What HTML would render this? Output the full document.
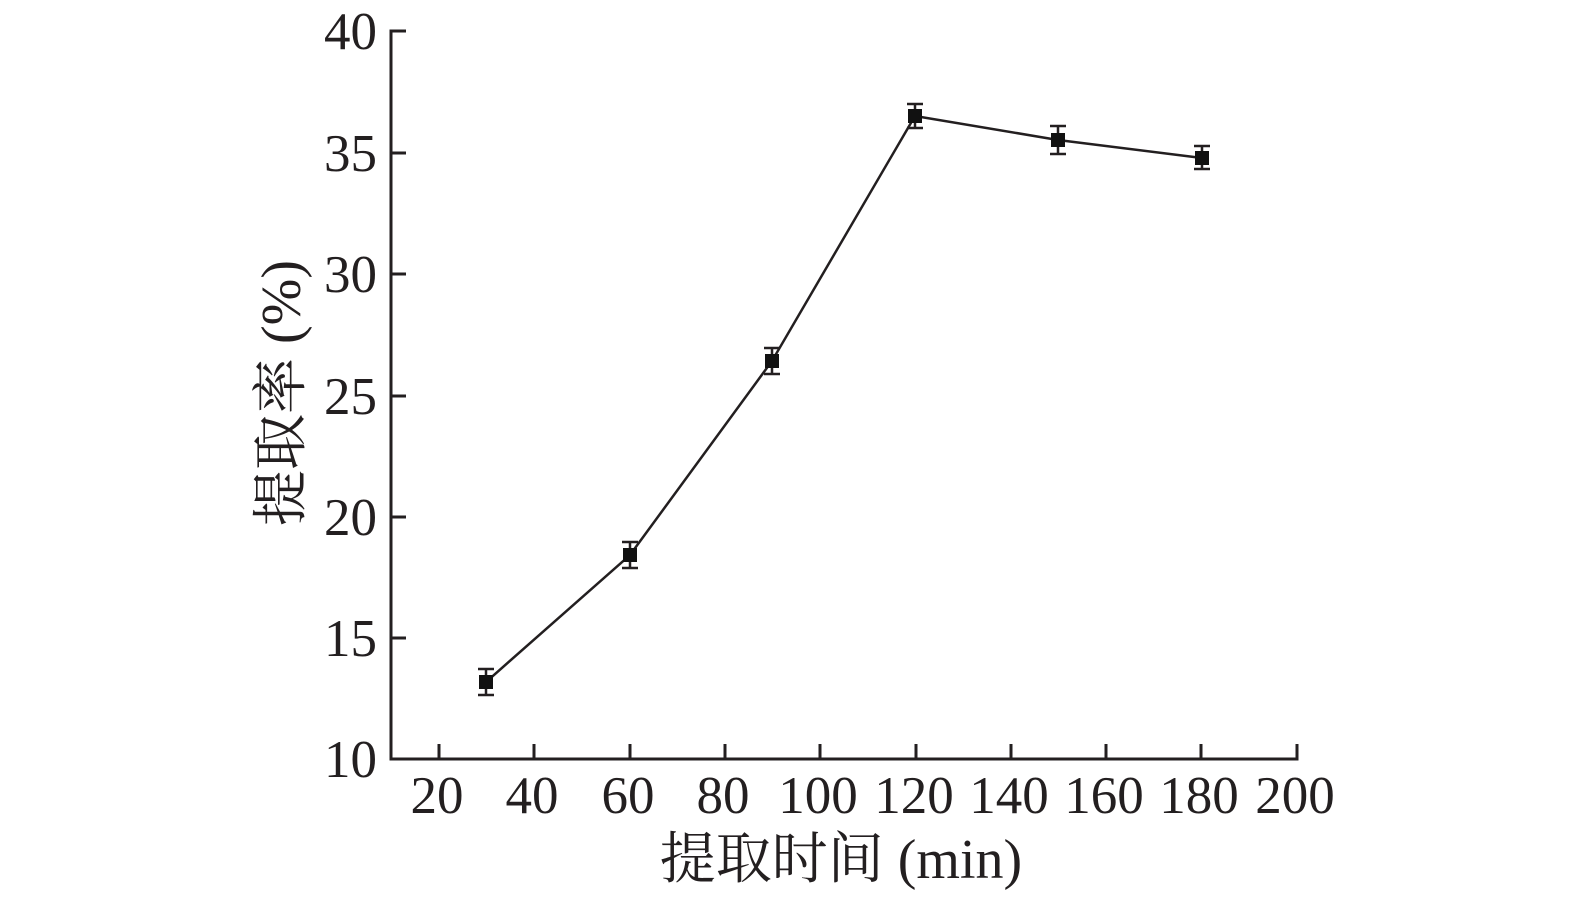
<!DOCTYPE html>
<html><head><meta charset="utf-8"><style>
html,body{margin:0;padding:0;background:#fff;}
svg text{font-family:"Liberation Serif","Noto Serif CJK SC",serif;fill:#231f20;}
</style></head><body>
<svg width="1575" height="900" viewBox="0 0 1575 900" xmlns="http://www.w3.org/2000/svg">
<g stroke="#231f20" stroke-width="3" fill="none">
<polyline points="406,31 391,31 391,759 1297,759 1297,744"/>
<line x1="391" y1="153" x2="406" y2="153"/>
<line x1="391" y1="274" x2="406" y2="274"/>
<line x1="391" y1="396" x2="406" y2="396"/>
<line x1="391" y1="517" x2="406" y2="517"/>
<line x1="391" y1="638" x2="406" y2="638"/>
<line x1="439" y1="759" x2="439" y2="744"/>
<line x1="534" y1="759" x2="534" y2="744"/>
<line x1="630" y1="759" x2="630" y2="744"/>
<line x1="725" y1="759" x2="725" y2="744"/>
<line x1="820" y1="759" x2="820" y2="744"/>
<line x1="916" y1="759" x2="916" y2="744"/>
<line x1="1011" y1="759" x2="1011" y2="744"/>
<line x1="1106" y1="759" x2="1106" y2="744"/>
<line x1="1201" y1="759" x2="1201" y2="744"/>
</g>
<polyline points="486,682 630,555 772,361 915,116 1058,140 1202,158" stroke="#231f20" stroke-width="2.5" fill="none"/>
<g stroke="#231f20" stroke-width="2.5">
<path d="M486,669V695M478,669H494M478,695H494"/>
<path d="M630,542V568M622,542H638M622,568H638"/>
<path d="M772,348V374M764,348H780M764,374H780"/>
<path d="M915,104V128M907,104H923M907,128H923"/>
<path d="M1058,126V154M1050,126H1066M1050,154H1066"/>
<path d="M1202,146V169M1194,146H1210M1194,169H1210"/>
</g>
<g fill="#111">
<rect x="479" y="675" width="14" height="14"/>
<rect x="623" y="548" width="14" height="14"/>
<rect x="765" y="354" width="14" height="14"/>
<rect x="908" y="109" width="14" height="14"/>
<rect x="1051" y="133" width="14" height="14"/>
<rect x="1195" y="151" width="14" height="14"/>
</g>
<g font-size="53" text-anchor="end">
<text x="377" y="49">40</text>
<text x="377" y="171">35</text>
<text x="377" y="292">30</text>
<text x="377" y="414">25</text>
<text x="377" y="535">20</text>
<text x="377" y="656">15</text>
<text x="377" y="777">10</text>
</g>
<g font-size="53" text-anchor="middle">
<text x="437" y="813">20</text>
<text x="532" y="813">40</text>
<text x="628" y="813">60</text>
<text x="723" y="813">80</text>
<text x="818" y="813">100</text>
<text x="914" y="813">120</text>
<text x="1009" y="813">140</text>
<text x="1104" y="813">160</text>
<text x="1199" y="813">180</text>
<text x="1295" y="813">200</text>
</g>
<g font-size="56" text-anchor="middle">
<text x="841" y="878">提取时间 (min)</text>
<text transform="translate(300,393) rotate(-90)">提取率 (%)</text>
</g>
</svg>
</body></html>
